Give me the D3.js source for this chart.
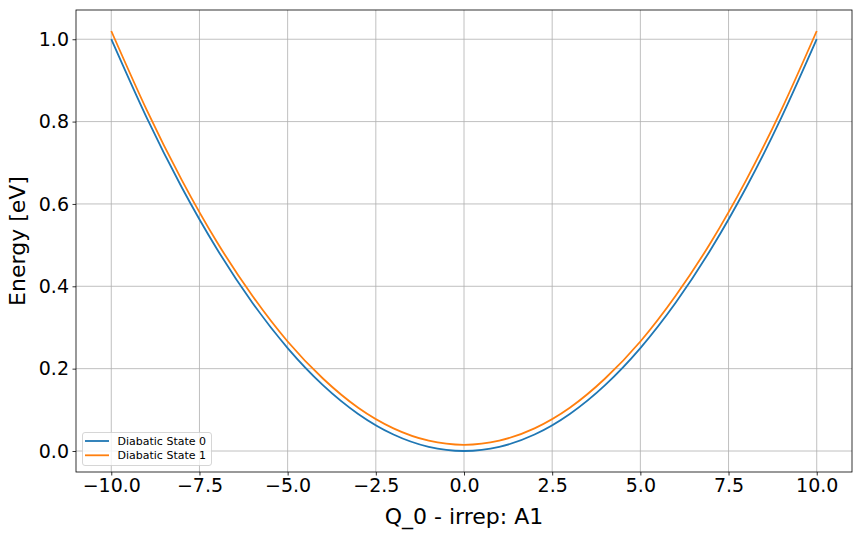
<!DOCTYPE html>
<meta charset="utf-8">
<script src="https://d3js.org/d3.v7.min.js"></script>
<style>
  body { margin: 0; background: #fff; }
  text { font-family: "DejaVu Sans", sans-serif; fill: #000; }
</style>
<div id="chart"></div>
<script>

// coordinate values along Q_0
var qValues = [-10, -9, -8, -7, -6, -5, -4, -3, -2, -1, 0, 1, 2, 3, 4, 5, 6, 7, 8, 9, 10];
// energies (eV)
var state0 = [1.0, 0.81, 0.64, 0.49, 0.36, 0.25, 0.16, 0.09, 0.04, 0.01, 0.0,
              0.01, 0.04, 0.09, 0.16, 0.25, 0.36, 0.49, 0.64, 0.81, 1.0];
var state1 = [1.02, 0.829, 0.658, 0.507, 0.377, 0.266, 0.176, 0.105, 0.055, 0.025, 0.015,
              0.025, 0.055, 0.105, 0.176, 0.266, 0.377, 0.507, 0.658, 0.829, 1.02];
var seriesNames = ["Diabatic State 0", "Diabatic State 1"];
var xTicks = [-10, -7.5, -5, -2.5, 0, 2.5, 5, 7.5, 10];
var yTicks = [0, 0.2, 0.4, 0.6, 0.8, 1.0];

var W = 861, H = 537;
var margin = {top: 10, right: 9, bottom: 65, left: 76};
var width = W - margin.left - margin.right,
    height = H - margin.top - margin.bottom;

var svg = d3.select("#chart").append("svg")
    .attr("width", W).attr("height", H);
var g = svg.append("g")
    .attr("transform", "translate(" + margin.left + "," + margin.top + ")");

var x = d3.scaleLinear().domain([-11, 11]).range([0, width]);
var y = d3.scaleLinear().domain([-0.051, 1.071]).range([height, 0]);

// grid
g.append("g").selectAll("line").data(xTicks).enter().append("line")
    .attr("x1", d => x(d)).attr("x2", d => x(d))
    .attr("y1", 0).attr("y2", height)
    .attr("stroke", "#b0b0b0").attr("stroke-width", 0.8);
g.append("g").selectAll("line").data(yTicks).enter().append("line")
    .attr("y1", d => y(d)).attr("y2", d => y(d))
    .attr("x1", 0).attr("x2", width)
    .attr("stroke", "#b0b0b0").attr("stroke-width", 0.8);

// curves
var colors = ["#1f77b4", "#ff7f0e"];
var line = d3.line()
    .x(d => x(d[0])).y(d => y(d[1]))
    .curve(d3.curveNatural);
[state0, state1].forEach(function(s, i) {
  g.append("path")
    .datum(qValues.map((q, j) => [q, s[j]]))
    .attr("fill", "none")
    .attr("stroke", colors[i])
    .attr("stroke-width", 1.8)
    .attr("d", line);
});

// axes
var xAxis = g.append("g")
    .attr("transform", "translate(0," + height + ")")
    .call(d3.axisBottom(x).tickValues(xTicks).tickSize(3.5).tickPadding(3.5)
      .tickFormat(d => d3.format(".1f")(d)));
var yAxis = g.append("g")
    .call(d3.axisLeft(y).tickValues(yTicks).tickSize(3.5).tickPadding(3.5)
      .tickFormat(d3.format(".1f")));
[xAxis, yAxis].forEach(function(a) {
  a.select(".domain").remove();
  a.selectAll("line").attr("stroke", "#000").attr("stroke-width", 0.8);
  a.selectAll("text").style("font-size", "19px").attr("fill", "#000");
});

// frame
g.append("rect").attr("width", width).attr("height", height)
    .attr("fill", "none").attr("stroke", "#000").attr("stroke-width", 0.8);

// labels
svg.append("text")
    .attr("x", margin.left + width / 2).attr("y", 524)
    .attr("text-anchor", "middle").style("font-size", "22px")
    .text("Q_0 - irrep: A1");
svg.append("text")
    .attr("transform", "translate(25," + (margin.top + height / 2) + ") rotate(-90)")
    .attr("text-anchor", "middle").style("font-size", "22px")
    .text("Energy [eV]");

// legend
var leg = g.append("g").attr("transform", "translate(6.5," + (height - 39.5) + ")");
leg.append("rect").attr("width", 129).attr("height", 33).attr("rx", 2.5)
    .attr("fill", "#fff").attr("fill-opacity", 0.8)
    .attr("stroke", "#cccccc").attr("stroke-width", 0.8);
seriesNames.forEach(function(name, i) {
  var yy = 8.5 + i * 14.3;
  leg.append("line").attr("x1", 2.5).attr("x2", 26.5)
      .attr("y1", yy).attr("y2", yy)
      .attr("stroke", colors[i]).attr("stroke-width", 1.8);
  leg.append("text").attr("x", 35).attr("y", yy + 4)
      .style("font-size", "11px").text(name);
});

</script>
